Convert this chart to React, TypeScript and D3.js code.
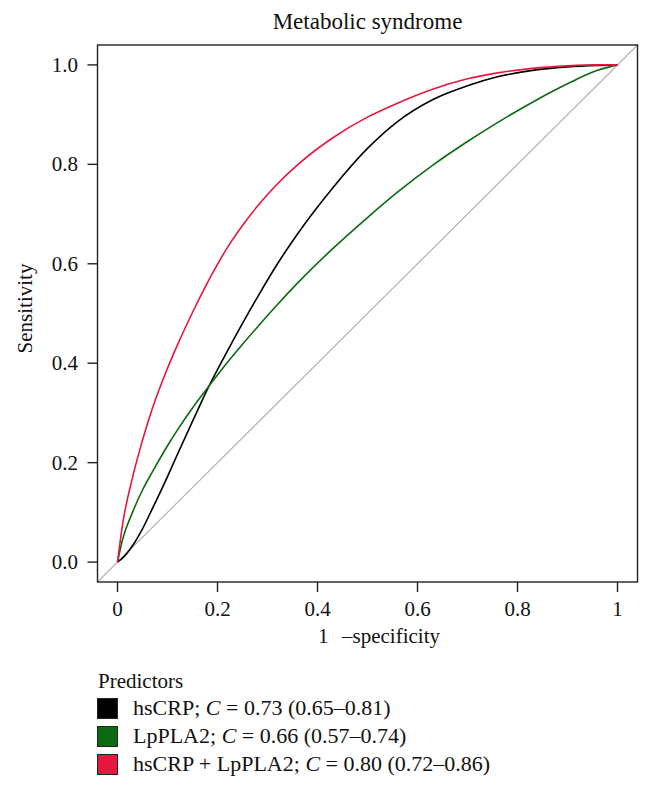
import React from "react";
import * as d3 from "d3";

const fpr = [0, 0.01, 0.03, 0.05, 0.07, 0.1, 0.12, 0.15, 0.18, 0.22, 0.25, 0.28, 0.32, 0.36, 0.43, 0.5, 0.56, 0.63, 0.7, 0.76, 0.83, 0.9, 0.96, 1];

const seriesNames = ["hsCRP", "LpPLA2", "hsCRP + LpPLA2"];
const seriesColors = ["#000000", "#0b6b12", "#e8163f"];
const aucLabels = ["0.73 (0.65–0.81)", "0.66 (0.57–0.74)", "0.80 (0.72–0.86)"];

const hsCRP = [0, 0.008, 0.033, 0.067, 0.108, 0.172, 0.217, 0.283, 0.348, 0.425, 0.48, 0.533, 0.6, 0.66, 0.752, 0.832, 0.886, 0.93, 0.958, 0.976, 0.989, 0.996, 0.999, 1];
const lpPLA2 = [0, 0.045, 0.1, 0.145, 0.182, 0.234, 0.266, 0.31, 0.35, 0.402, 0.438, 0.473, 0.518, 0.561, 0.63, 0.693, 0.744, 0.798, 0.846, 0.884, 0.925, 0.962, 0.989, 1];
const combined = [0, 0.075, 0.17, 0.245, 0.31, 0.39, 0.437, 0.502, 0.562, 0.633, 0.677, 0.716, 0.761, 0.799, 0.853, 0.895, 0.923, 0.951, 0.972, 0.984, 0.993, 0.998, 1, 1];

const xTicks = [0, 0.2, 0.4, 0.6, 0.8, 1];
const xTickLabels = ["0", "0.2", "0.4", "0.6", "0.8", "1"];
const yTicks = [0, 0.2, 0.4, 0.6, 0.8, 1];
const yTickLabels = ["0.0", "0.2", "0.4", "0.6", "0.8", "1.0"];

const W = 652;
const H = 791;
const FONT = "'Liberation Serif', 'DejaVu Serif', serif";

export default function App() {
  const left = 97.5, right = 637.5, top = 45, bottom = 582;
  const x = d3.scaleLinear().domain([-0.04, 1.04]).range([left, right]);
  const y = d3.scaleLinear().domain([-0.04, 1.04]).range([bottom, top]);
  const series = [hsCRP, lpPLA2, combined];
  const line = d3
    .line<number>()
    .x((_, i) => x(fpr[i]))
    .y((d) => y(d))
    .curve(d3.curveMonotoneX);
  const fs = 21;
  return (
    <svg width={W} height={H} style={{ position: "absolute", left: 0, top: 0, background: "#fff" }} fontFamily={FONT}>
      <rect x={0} y={0} width={W} height={H} fill="#fff" />
      <defs>
        <clipPath id="plotclip">
          <rect x={left} y={top} width={right - left} height={bottom - top} />
        </clipPath>
      </defs>
      <text x={(left + right) / 2} y={29} textAnchor="middle" fontSize={23} fill="#111">
        Metabolic syndrome
      </text>
      <g clipPath="url(#plotclip)">
        <line x1={x(-0.04)} y1={y(-0.04)} x2={x(1.04)} y2={y(1.04)} stroke="#b3b3b3" strokeWidth={1.2} />
        {series.map((s, i) => (
          <path key={i} d={line(s) || ""} fill="none" stroke={seriesColors[i]} strokeWidth={1.6} />
        ))}
      </g>
      <rect x={left} y={top} width={right - left} height={bottom - top} fill="none" stroke="#222" strokeWidth={1.4} />
      {xTicks.map((t, i) => (
        <g key={"x" + i}>
          <line x1={x(t)} x2={x(t)} y1={bottom} y2={bottom + 10} stroke="#222" strokeWidth={1.4} />
          <text x={x(t)} y={616} textAnchor="middle" fontSize={fs} fill="#111">
            {xTickLabels[i]}
          </text>
        </g>
      ))}
      {yTicks.map((t, i) => (
        <g key={"y" + i}>
          <line x1={left - 10} x2={left} y1={y(t)} y2={y(t)} stroke="#222" strokeWidth={1.4} />
          <text x={78} y={y(t) + 7} textAnchor="end" fontSize={fs} fill="#111">
            {yTickLabels[i]}
          </text>
        </g>
      ))}
      <text x={318} y={643} fontSize={fs} fill="#111">1</text>
      <text x={342} y={643} fontSize={fs} fill="#111">–specificity</text>
      <text transform={`translate(32,${(top + bottom) / 2 - 5}) rotate(-90)`} textAnchor="middle" fontSize={fs} fill="#111">
        Sensitivity
      </text>
      <text x={98} y={688} fontSize={fs} fill="#111">Predictors</text>
      {seriesNames.map((n, i) => (
        <g key={"l" + i}>
          <rect x={97.5} y={698.5 + i * 28} width={20} height={20} fill={seriesColors[i]} stroke="#222" strokeWidth={1} />
          <text x={133} y={715 + i * 28} fontSize={22} fill="#111">
            {n}; <tspan fontStyle="italic">C</tspan> = {aucLabels[i]}
          </text>
        </g>
      ))}
    </svg>
  );
}
